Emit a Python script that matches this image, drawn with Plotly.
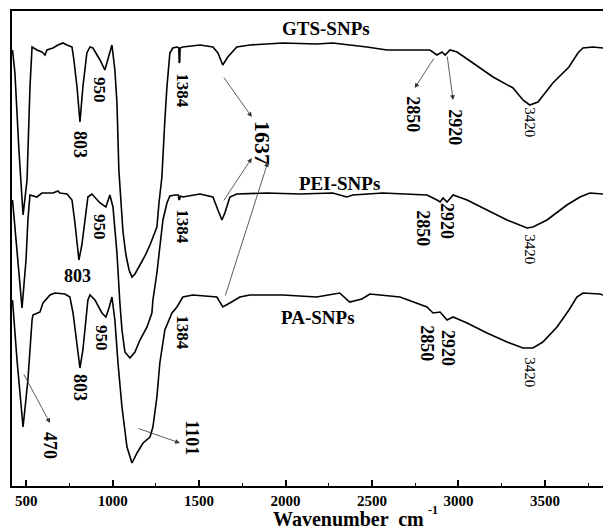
import plotly.graph_objects as go

# ---- data: wavenumber (cm-1) and transmittance (arbitrary offset units) ----
gts_wn = [421, 435, 458, 482, 505, 522, 534, 562, 591, 609, 620, 655, 684, 713, 736, 765, 776, 794, 811,
          828, 851, 869, 886, 927, 955, 973, 996, 1013, 1025, 1036, 1048, 1060, 1077, 1095, 1112, 1129,
          1158, 1187, 1216, 1233, 1256, 1268, 1285, 1302, 1314, 1331, 1348, 1372, 1383, 1385, 1388, 1390,
          1406, 1505, 1580, 1609, 1637, 1666, 1718, 1794, 1984, 2180, 2273, 2470, 2587, 2835, 2876, 2905,
          2923, 2951, 2992, 3084, 3200, 3316, 3373, 3412, 3460, 3546, 3639, 3691, 3720, 3778, 3836]
gts_t = [436, 413, 336, 271, 306, 399, 439, 436, 434, 431, 436, 438, 441, 443, 441, 439, 426, 399, 364,
         399, 433, 439, 438, 426, 416, 426, 441, 416, 383, 316, 283, 254, 231, 216, 209, 212,
         221, 230, 241, 249, 259, 283, 309, 366, 399, 433, 438, 439, 438, 423, 424, 438,
         439, 441, 439, 433, 421, 429, 439, 441, 443, 442, 443, 439, 436, 436, 431, 434,
         431, 436, 434, 423, 409, 398, 386, 381, 384, 403, 419, 433, 438, 439, 438]

pei_wn = [421, 441, 476, 499, 510, 522, 562, 591, 655, 684, 695, 736, 765, 782, 805, 822, 840, 857, 880,
          927, 961, 984, 1002, 1025, 1042, 1054, 1071, 1100, 1129, 1158, 1199, 1227, 1233, 1256, 1273,
          1291, 1314, 1331, 1360, 1380, 1384, 1388, 1392, 1406, 1505, 1580, 1609, 1632, 1649, 1678, 1718,
          1892, 2083, 2273, 2354, 2389, 2563, 2818, 2876, 2894, 2911, 2934, 2969, 3050, 3165, 3281, 3397,
          3431, 3512, 3627, 3703, 3760, 3836]
pei_t = [286, 246, 178, 226, 266, 291, 289, 293, 293, 295, 293, 292, 286, 263, 226, 241, 266, 289, 292,
         283, 279, 291, 279, 233, 183, 156, 134, 128, 134, 146, 159, 173, 186, 213, 239,
         266, 283, 290, 291, 291, 286, 287, 290, 289, 292, 289, 276, 266, 273, 289, 292,
         293, 292, 293, 289, 291, 293, 291, 286, 284, 288, 284, 291, 286, 276, 266, 258,
         259, 266, 281, 289, 293, 292]

pa_wn = [421, 447, 482, 499, 510, 534, 539, 580, 597, 638, 666, 724, 753, 771, 794, 811, 828, 840, 857,
         869, 898, 938, 961, 979, 996, 1013, 1031, 1054, 1083, 1112, 1141, 1176, 1216, 1233, 1256, 1273,
         1302, 1343, 1372, 1406, 1464, 1603, 1637, 1678, 1736, 1794, 1984, 2180, 2313, 2371, 2441, 2488,
         2662, 2818, 2853, 2894, 2934, 2969, 3050, 3165, 3281, 3373, 3431, 3488, 3570, 3639, 3685, 3720,
         3818, 3836]
pa_t = [186, 126, 59, 86, 106, 166, 171, 174, 183, 191, 193, 192, 189, 173, 139, 118, 136, 156, 186,
        191, 186, 173, 169, 178, 189, 166, 123, 79, 39, 23, 33, 43, 49, 59, 89, 123,
        156, 173, 179, 189, 191, 189, 179, 183, 189, 191, 191, 189, 193, 184, 187, 192,
        189, 179, 173, 174, 166, 169, 163, 153, 144, 138, 138, 144, 159, 176, 189, 193,
        192, 191]

x_ticks = [500, 1000, 1500, 2000, 2500, 3000, 3500]
x_minor = [750, 1250, 1750, 2250, 2750, 3250, 3750]

# peak labels: (text, wavenumber, T, angle, size, bold)
labels = [
    ("GTS-SNPs", 2233, 458, 0, 19, True),
    ("803", 811, 341, 90, 18, True),
    ("950", 927, 396, 90, 17, True),
    ("1384", 1406, 395, 90, 17, True),
    ("1637", 1869, 343, 90, 22, True),
    ("2850", 2736, 372, 90, 18, True),
    ("2920", 2978, 359, 90, 18, True),
    ("3420", 3412, 364, 90, 15, False),
    ("PEI-SNPs", 2314, 303, 0, 19, True),
    ("803", 794, 210, 0, 18, True),
    ("950", 927, 259, 90, 17, True),
    ("1384", 1406, 259, 90, 17, True),
    ("2850", 2793, 258, 90, 18, True),
    ("2920", 2934, 265, 90, 18, True),
    ("3420", 3412, 237, 90, 15, False),
    ("PA-SNPs", 2187, 169, 0, 19, True),
    ("950", 938, 148, 90, 17, True),
    ("803", 811, 98, 90, 18, True),
    ("1384", 1406, 153, 90, 17, True),
    ("470", 638, 41, 90, 18, True),
    ("1101", 1458, 48, 90, 18, True),
    ("2850", 2817, 143, 90, 18, True),
    ("2920", 2940, 138, 90, 18, True),
    ("3420", 3412, 114, 90, 15, False),
]

# arrows: (tail wn, tail T, head wn, head T)
arrows = [
    (1637, 410, 1805, 369),
    (1637, 284, 1805, 328),
    (1649, 189, 1898, 324),
    (2863, 429, 2747, 398),
    (2934, 431, 2969, 386),
    (482, 113, 638, 63),
    (1141, 58, 1389, 43),
]

FONT = "Liberation Serif"

fig = go.Figure()
for wn, t in [(gts_wn, gts_t), (pei_wn, pei_t), (pa_wn, pa_t)]:
    fig.add_trace(go.Scatter(x=wn, y=t, mode="lines",
                             line=dict(color="black", width=1.6), showlegend=False,
                             hoverinfo="skip"))

ann = []
for text, x, y, ang, size, bold in labels:
    ann.append(dict(x=x, y=y, xref="x", yref="y", text=text, showarrow=False,
                    textangle=ang, xanchor="center", yanchor="middle",
                    font=dict(family=FONT, size=size, color="black",
                              weight="bold" if bold else "normal")))
for x0, y0, x1, y1 in arrows:
    ann.append(dict(x=x1, y=y1, ax=x0, ay=y0, xref="x", yref="y", axref="x", ayref="y",
                    text="", showarrow=True, arrowhead=2, arrowsize=1.2, arrowwidth=0.8,
                    arrowcolor="#333333", standoff=0, startstandoff=0))
# axis title split into main text and superscript
ann.append(dict(x=0.7005, y=-0.069, xref="paper", yref="paper",
                text="Wavenumber  cm", showarrow=False,
                xanchor="right", yanchor="middle",
                font=dict(family=FONT, size=20, color="black", weight="bold")))
ann.append(dict(x=0.7005, y=-0.05, xref="paper", yref="paper",
                text="-1", showarrow=False,
                xanchor="left", yanchor="middle",
                font=dict(family=FONT, size=12, color="black", weight="bold")))

fig.update_layout(
    width=603, height=529,
    margin=dict(l=12, r=0, t=11, b=43),
    paper_bgcolor="white", plot_bgcolor="white",
    annotations=ann,
    xaxis=dict(range=[418, 3836], tickvals=x_ticks, ticks="inside", ticklen=6, tickwidth=1.5,
               tickcolor="black", showline=True, linecolor="black", linewidth=2, mirror=True,
               showgrid=False, zeroline=False,
               tickfont=dict(family=FONT, size=15, color="black", weight="bold"),
               minor=dict(tickvals=x_minor, ticks="inside", ticklen=3, tickwidth=1.2,
                          tickcolor="black", showgrid=False)),
    yaxis=dict(range=[0, 475], showticklabels=False, ticks="", showline=True,
               linecolor="black", linewidth=2, mirror=False, showgrid=False, zeroline=False),
)

fig.write_html("out.html")
